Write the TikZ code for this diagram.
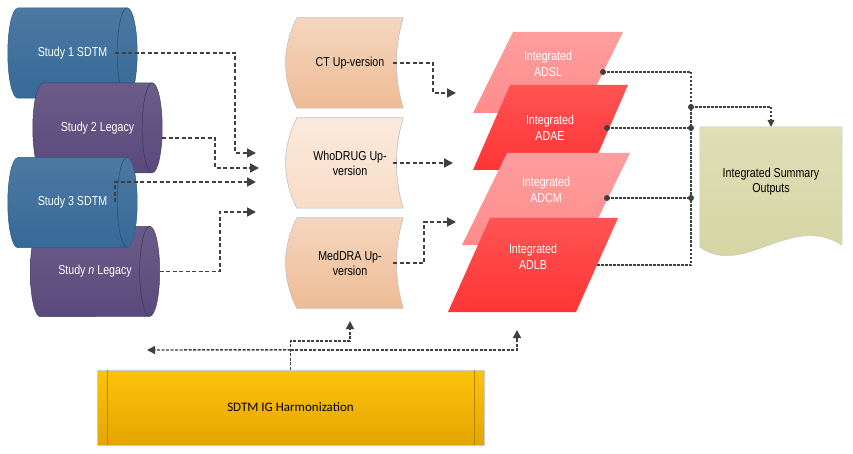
\documentclass[tikz,border=0pt]{standalone}
\usepackage{fontspec}
\setmainfont{Liberation Sans}
\newfontfamily\narrowsf[FakeStretch=0.82]{Liberation Sans}
\newfontfamily\carlito{Carlito}
\usetikzlibrary{arrows.meta,positioning,backgrounds}
\definecolor{sdtmblue}{HTML}{376A98}
\definecolor{legacy}{HTML}{5A4A7C}
\definecolor{upver}{HTML}{EEBB94}
\definecolor{whover}{HTML}{F8DCC6}
\definecolor{adlight}{HTML}{FF8C8C}
\definecolor{adstrong}{HTML}{FF3535}
\definecolor{summ}{HTML}{D4D4A0}
\definecolor{harmtop}{HTML}{FFC20A}
\definecolor{harmbot}{HTML}{E3A600}
\definecolor{conn}{HTML}{404040}
\tikzset{
    %Define standard arrow tip
    >={Triangle[length=9pt,width=9pt]},
    %Define style for the study cylinders
    study/.style={
           rectangle,
           minimum width=109,
           minimum height=90,
           inner sep=0pt,
           text=white,
           font=\narrowsf\fontsize{13}{15}\selectfont},
    %Define style for the up-version boxes
    upbox/.style={
           rectangle,
           minimum width=106,
           minimum height=90,
           inner sep=0pt,
           align=center,
           font=\narrowsf\fontsize{13}{15}\selectfont},
    %Define style for the integrated datasets
    adbox/.style={
           inner sep=0pt,
           align=center,
           text=white,
           font=\narrowsf\fontsize{13}{16}\selectfont},
    outbox/.style={
           rectangle,
           minimum width=142,
           minimum height=110,
           inner sep=0pt,
           align=center,
           font=\narrowsf\fontsize{13}{15}\selectfont},
    harmbox/.style={
           rectangle,
           minimum width=387,
           minimum height=75,
           draw=black!20,
           top color=harmtop,
           bottom color=harmbot,
           font=\carlito\fontsize{13}{15}\selectfont},
    % Define arrow styles
    flow/.style={
           ->,
           draw=conn,
           line width=1.8pt,
           dash pattern=on 4pt off 2.5pt},
    feed/.style={
           ->,
           draw=conn,
           line width=1.4pt,
           dash pattern=on 3pt off 1.5pt,
           >={Triangle[length=8pt,width=8pt]}},
    link/.style={
           draw=conn,
           line width=1.3pt,
           dash pattern=on 2.5pt off 1.5pt,
           >={Triangle[length=7pt,width=7pt]}}
}
\begin{document}
\begin{tikzpicture}[x=1pt,y=-1pt]
\useasboundingbox (0,0) rectangle (853,454);
% sources
\node[study] (s1) at (72.5,53) {Study 1 SDTM};
\node[study] (s2) at (97.5,128) {Study 2 Legacy};
\node[study] (s3) at (72.5,202.5) {Study 3 SDTM};
\node[study] (sn) at (95,271.5) {Study \textit{n} Legacy};
% up-versioning
\node[upbox] (ct) at (350,63) {CT Up-version};
\node[upbox] (who) at (350,163) {WhoDRUG Up-\\version};
\node[upbox] (med) at (350,263) {MedDRA Up-\\version};
% integrated datasets
\node[adbox] (adsl) at (548,64) {Integrated\\ADSL};
\node[adbox] (adae) at (550,128) {Integrated\\ADAE};
\node[adbox] (adcm) at (546,190) {Integrated\\ADCM};
\node[adbox] (adlb) at (533,257) {Integrated\\ADLB};
\node[outbox] (sum) at (771,182) {Integrated Summary\\Outputs};
\node[harmbox] (sdtm) at (290.5,407.5) {SDTM IG Harmonization};
\draw[harmbot!80!black] ([xshift=10pt]sdtm.north west) -- ([xshift=10pt]sdtm.south west)
      ([xshift=-10pt]sdtm.north east) -- ([xshift=-10pt]sdtm.south east);

\begin{scope}[on background layer]
\foreach \n/\c in {s1/sdtmblue, s2/legacy, sn/legacy, s3/sdtmblue}{
  \path[top color=\c!90!white, bottom color=\c, draw=\c!85!black, line width=0.5pt]
    (\n.north west) -- (\n.north east) arc[start angle=-90, end angle=90, x radius=10, y radius=45]
    -- (\n.south west) arc[start angle=90, end angle=270, x radius=10, y radius=45] -- cycle;
  \draw[\c!70!black, line width=0.5pt] (\n.north east) arc[start angle=270, end angle=90, x radius=10, y radius=45];
}
\foreach \n/\c in {ct/upver, who/whover, med/upver}{
  \path[top color=\c!60!white, bottom color=\c, draw=black!25, line width=0.6pt]
    (\n.north west) -- (\n.north east) .. controls +(-9,30) and +(-9,-30) .. (\n.south east)
    -- (\n.south west) .. controls +(-15,-30) and +(-15,30) .. (\n.north west) -- cycle;
}
\foreach \cx/\t/\b/\w/\s/\c in {548/32/113/110/40/adlight, 550.5/85/170/118/37/adstrong,
                                546/153/245/123/45/adlight, 533/218/312/128/42/adstrong}{
  \path[top color=\c!85!white, bottom color=\c]
    ({\cx-\w/2+\s/2},\t) -- ({\cx+\w/2+\s/2},\t) -- ({\cx+\w/2-\s/2},\b) -- ({\cx-\w/2-\s/2},\b) -- cycle;
}
\path[top color=summ!75!white, bottom color=summ, draw=black!20, line width=0.5pt]
  (sum.north west) -- (sum.north east) -- ([yshift=-8pt]sum.south east)
  .. controls +(-52,-33) and +(45,31) .. ([yshift=-10pt]sum.south west) -- cycle;
\end{scope}

% free arrow ends
\coordinate (a1) at (256,153);
\coordinate (a2) at (259,168);
\coordinate (a3) at (256,182);
\coordinate (a4) at (256,212);
\coordinate (b1) at (456,93);
\coordinate (b2) at (453,163);
\coordinate (b3) at (456,222);
\coordinate (c1) at (350,321);
\coordinate (c2) at (147,350);
\coordinate (c3) at (517,330);
% dataset outlets
\coordinate (d1) at (603,72);
\coordinate (d2) at (607,128);
\coordinate (d3) at (607,198);
\coordinate (d4) at (597,265);
\coordinate (hub) at (691,107);

\draw[flow] ([xshift=-12pt]s1.east) -- ++(120,0) |- (a1);
\draw[flow] ([xshift=10pt,yshift=-10pt]s2.east) -- ++(53,0) |- (a2);
\draw[flow] ([xshift=-12pt]s3.east) |- (a3);
\draw[flow] ([xshift=10pt]sn.east) -- ++(60,0) |- (a4);
\draw[flow] ([xshift=-10pt]ct.east) -- ++(40,0) |- (b1);
\draw[flow] ([xshift=-10pt]who.east) -- (b2);
\draw[flow] ([xshift=-10pt]med.east) -- ++(31,0) |- (b3);
\draw[feed] (sdtm.north) -- ++(0,-29) -| (c1);
\draw[feed] ([yshift=20pt]sdtm.north) -- (c2);
\draw[feed] ([yshift=20pt]sdtm.north) -| (c3);
\draw[link] (d1) -| (hub);
\draw[link] (d4) -| (hub);
\draw[link] (d2) -- (d2 -| hub);
\draw[link] (d3) -- (d3 -| hub);
\draw[link,->] (hub) -| (sum.north);
\foreach \p in {d1,d2,d3,hub}
  \fill[conn] (\p) circle[radius=3];
\fill[conn] (d2 -| hub) circle[radius=3] (d3 -| hub) circle[radius=3];
\end{tikzpicture}
\end{document}
